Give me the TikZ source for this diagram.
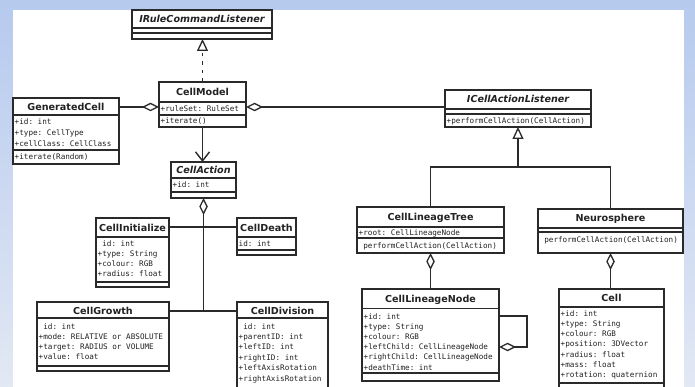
\documentclass[tikz,border=0pt]{standalone}
\usepackage{fontspec}
\setmainfont{DejaVu Sans}
\setmonofont{DejaVu Sans Mono}
\usetikzlibrary{arrows.meta}
\definecolor{bgtop}{HTML}{B6CAEE}
\definecolor{bgbot}{HTML}{E2E8F4}
\definecolor{lc}{HTML}{2A2A2A}
\definecolor{tc}{HTML}{222222}
\tikzset{
  box/.style={draw=lc, fill=white, line width=1.3pt, inner sep=0pt, outer sep=0pt, anchor=north west},
  boxline/.style={draw=lc, line width=1.2pt},
  ttl/.style={font=\fontsize{9.6}{11}\selectfont\bfseries, anchor=base, inner sep=0pt, text=tc},
  ittl/.style={font=\fontsize{9.6}{11}\selectfont\bfseries\itshape, anchor=base, inner sep=0pt, text=tc},
  attr/.style={font=\ttfamily\fontsize{7.65}{10}\selectfont, anchor=base west, inner sep=0pt, text=tc},
  conn/.style={draw=lc, line width=1.6pt},
  agg/.style={conn, {Diamond[length=17pt, width=8.5pt, fill=white, line width=1.3pt]}-},
  gen/.style={conn, -{Triangle[length=12pt, width=11pt, fill=white, line width=1.3pt]}},
  real/.style={gen, dash pattern=on 3.5pt off 5pt},
  assoc/.style={conn, -{Straight Barb[length=9pt, width=14pt, line width=1.4pt]}}
}
\newcommand\cls[6]{%
  \node[box, minimum width=#4pt, minimum height=#5pt] (#1) at (#2,#3) {};
  \foreach \d in {#6} \draw[boxline] ([yshift=-\d*1pt]#1.north west) -- ([yshift=-\d*1pt]#1.north east);}
\newcommand\lines[5]{%
  \foreach \t [count=\i] in {#5} \node[attr] (#1-\i) at (#2, {#3+(\i-1)*#4}) {\t};}
\begin{document}
\begin{tikzpicture}[x=1pt, y=-1pt]
\useasboundingbox (0,0) rectangle (695,387);
\clip (0,0) rectangle (695,387);
\shade[top color=bgtop, bottom color=bgbot] (0,0) rectangle (695,387);
\fill[white] (13,10) rectangle (684,387);

% classes
\cls{irc}{132}{10}{140}{29}{18,23}
\node[ittl] (irc-t) at (202,22.5) {IRuleCommandListener};

\cls{cm}{159}{82}{87}{45}{20,33}
\node[ttl] (cm-t) at (202.5,95.5) {CellModel};
\lines{cma}{160.5}{111.3}{10}{{+ruleSet: RuleSet}}
\lines{cmo}{160.5}{124}{10}{{+iterate()}}

\cls{gc}{13}{98}{106}{66}{17,52}
\node[ttl] (gc-t) at (66,110.5) {GeneratedCell};
\lines{gca}{14.5}{124.8}{11.1}{{+id: int},{+type: CellType},{+cellClass: CellClass}}
\lines{gco}{14.5}{159.8}{10}{{+iterate(Random)}}

\cls{ical}{445}{90}{146}{37}{19,24}
\node[ittl] (ical-t) at (518,103) {ICellActionListener};
\lines{icalo}{446.5}{123.2}{10}{{+performCellAction(CellAction)}}

\cls{ca}{171}{162}{65}{36}{16,30}
\node[ittl] (ca-t) at (203.5,173.6) {CellAction};
\lines{caa}{172.5}{188}{10}{{+id: int}}

\cls{ci}{96}{218}{73}{69}{19,64}
\node[ttl] (ci-t) at (132.5,231) {CellInitialize};
\lines{cia}{97.5}{246}{10}{{\hphantom{+}id: int},{+type: String},{+colour: RGB},{+radius: float}}

\cls{cd}{237}{218}{59}{37}{19,32}
\node[ttl] (cd-t) at (266.5,231) {CellDeath};
\lines{cda}{238.5}{246}{10}{{id: int}}

\cls{cg}{37}{302}{132}{69}{16,64}
\node[ttl] (cg-t) at (103,314.5) {CellGrowth};
\lines{cga}{38.5}{329}{10.3}{{\hphantom{+}id: int},{+mode: RELATIVE or ABSOLUTE},{+target: RADIUS or VOLUME},{+value: float}}

\cls{cdv}{237}{302}{91}{95}{16}
\node[ttl] (cdv-t) at (282.5,314.5) {CellDivision};
\lines{cdva}{238.5}{329}{10.4}{{\hphantom{+}id: int},{+parentID: int},{+leftID: int},{+rightID: int},{+leftAxisRotation},{+rightAxisRotation}}

\cls{clt}{357}{207}{147}{46}{20,31}
\node[ttl] (clt-t) at (430.5,220.5) {CellLineageTree};
\lines{clta}{358.5}{235.5}{10}{{+root: CellLineageNode}}
\lines{clto}{358.5}{248.5}{10}{{\hphantom{+}performCellAction(CellAction)}}

\cls{ns}{538}{209}{145}{44}{19,23}
\node[ttl] (ns-t) at (610.5,222) {Neurosphere};
\lines{nso}{539.5}{242.5}{10}{{\hphantom{+}performCellAction(CellAction)}}

\cls{cln}{362}{289}{137}{92}{19.5,84}
\node[ttl] (cln-t) at (430.5,302.5) {CellLineageNode};
\lines{clna}{363.5}{319}{10.2}{{+id: int},{+type: String},{+colour: RGB},{+leftChild: CellLineageNode},{+rightChild: CellLineageNode},{+deathTime: int}}

\cls{cell}{559}{289}{105}{106}{18,94}
\node[ttl] (cell-t) at (611.5,301.5) {Cell};
\lines{cella}{560.5}{316}{10.3}{{+id: int},{+type: String},{+colour: RGB},{+position: 3DVector},{+radius: float},{+mass: float},{+rotation: quaternion}}

% connectors
\draw[real] (cm.north) -- (cm.north |- irc.south);

\coordinate (p1) at ([yshift=-25pt]cm.north west);
\draw[agg] (p1) -- (p1 -| gc.east);
\coordinate (p2) at ([yshift=-25pt]cm.north east);
\draw[agg] (p2) -- (p2 -| ical.west);

\coordinate (g) at (518,167);
\draw[gen] (g) -- (ical.south);
\draw[conn] (clt.north) |- (g);
\draw[conn] (ns.north) |- (g);

\draw[assoc] (cm.south) -- (cm.south |- ca.north);

\coordinate (k1) at ([yshift=-9pt]ci.north east);
\coordinate (k2) at ([yshift=-9pt]cg.north east);
\draw[agg] (ca.south) -- (ca.south |- k2);
\draw[conn] (k1) -- (k1 -| cd.west);
\draw[conn] (k2) -- (k2 -| cdv.west);

\draw[agg] (clt.south) -- (clt.south |- cln.north);
\draw[agg] (ns.south) -- (ns.south |- cell.north);

\coordinate (s1) at ([yshift=-27pt]cln.north east);
\coordinate (s2) at ([yshift=-58pt]cln.north east);
\draw[agg] (s2) -- ++(28,0) |- (s1);
\end{tikzpicture}
\end{document}
